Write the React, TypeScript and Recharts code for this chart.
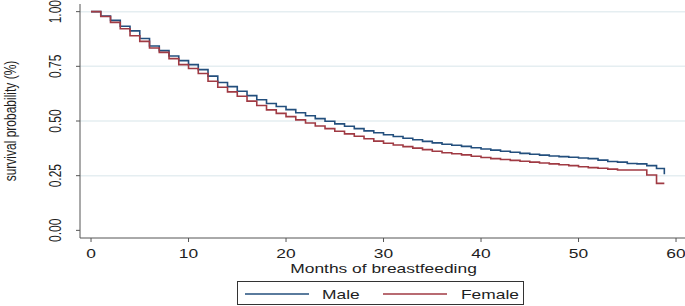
import React from 'react';
import { LineChart, Line, XAxis, YAxis, ReferenceLine, Legend } from 'recharts';

const months = [
  0, 1, 2, 3, 4, 5, 6, 7, 8, 9, 10, 11, 12, 13, 14, 15, 16, 17, 18, 19,
  20, 21, 22, 23, 24, 25, 26, 27, 28, 29, 30, 31, 32, 33, 34, 35, 36, 37, 38, 39,
  40, 41, 42, 43, 44, 45, 46, 47, 48, 49, 50, 51, 52, 53, 54, 55, 56, 57, 58, 58.8,
];

const maleSurvival = [
  1.0, 0.98, 0.96, 0.933, 0.912, 0.877, 0.843, 0.822, 0.797, 0.776,
  0.758, 0.735, 0.705, 0.676, 0.657, 0.636, 0.616, 0.597, 0.58, 0.566,
  0.552, 0.538, 0.524, 0.511, 0.499, 0.487, 0.476, 0.465, 0.455, 0.446,
  0.437, 0.429, 0.421, 0.414, 0.407, 0.4, 0.394, 0.389, 0.384, 0.378,
  0.372, 0.367, 0.362, 0.357, 0.352, 0.348, 0.344, 0.34, 0.337, 0.334,
  0.331, 0.328, 0.321, 0.315, 0.312, 0.306, 0.304, 0.296, 0.283, 0.256,
];

const femaleSurvival = [
  1.0, 0.978, 0.951, 0.922, 0.89, 0.864, 0.834, 0.814, 0.785, 0.758,
  0.74, 0.717, 0.682, 0.654, 0.633, 0.613, 0.591, 0.571, 0.551, 0.535,
  0.52, 0.505, 0.491, 0.477, 0.465, 0.453, 0.441, 0.43, 0.419, 0.408,
  0.398, 0.39, 0.383, 0.376, 0.369, 0.362, 0.355, 0.35, 0.345, 0.339,
  0.333, 0.328, 0.324, 0.32, 0.316, 0.312, 0.308, 0.304, 0.3, 0.296,
  0.291, 0.287, 0.284, 0.28, 0.276, 0.276, 0.276, 0.253, 0.215, 0.215,
];

const xTicks = [0, 10, 20, 30, 40, 50, 60];
const yTicks = [0, 0.25, 0.5, 0.75, 1];
const gridValues = [0.25, 0.5, 0.75, 1];
const seriesNames = ['Male', 'Female'];
const seriesColors = ['#234f7d', '#a03a43'];
const xTitle = 'Months of breastfeeding';
const yTitle = 'survival probability (%)';

const data = months.map((m, i) => ({
  month: m,
  male: maleSurvival[i],
  female: femaleSurvival[i],
}));

const FONT = '"Liberation Sans", Arial, Helvetica, sans-serif';
const SX = 1.45;
const FS = 12;
const TXT = '#1e1e1e';

const XTick = (props: any) => {
  const { x, y, payload } = props;
  return (
    <text
      transform={`translate(${x}, ${y + 14}) scale(${SX},1)`}
      textAnchor="middle"
      fontFamily={FONT}
      fontSize={FS}
      fill={TXT}
    >
      {payload.value}
    </text>
  );
};

const YTick = (props: any) => {
  const { x, y, payload } = props;
  return (
    <text
      transform={`translate(${x - 13}, ${y}) scale(${SX},1) rotate(-90)`}
      textAnchor="middle"
      fontFamily={FONT}
      fontSize={FS}
      fill={TXT}
    >
      {Number(payload.value).toFixed(2)}
    </text>
  );
};

const XTitle = (props: any) => {
  const vb = props.viewBox || {};
  const cx = vb.x + vb.width / 2 + 1;
  return (
    <text
      transform={`translate(${cx}, ${vb.y + 35}) scale(${SX},1)`}
      textAnchor="middle"
      fontFamily={FONT}
      fontSize={FS}
      fill={TXT}
    >
      {xTitle}
    </text>
  );
};

const YTitle = (props: any) => {
  const vb = props.viewBox || {};
  const cy = vb.y + vb.height / 2;
  return (
    <text
      transform={`translate(16, ${cy}) scale(${SX},1) rotate(-90)`}
      textAnchor="middle"
      fontFamily={FONT}
      fontSize={FS}
      fill={TXT}
    >
      {yTitle}
    </text>
  );
};

const LegendBox = () => (
  <div
    style={{
      width: 287,
      height: 24,
      boxSizing: 'border-box',
      border: '1px solid #333',
      background: '#fff',
    }}
  >
    <svg width={285} height={22} style={{ display: 'block' }}>
      <line x1={7} x2={71} y1={12} y2={12} stroke={seriesColors[0]} strokeWidth={1.6} />
      <text
        transform={`translate(84, 17) scale(${SX},1)`}
        fontFamily={FONT}
        fontSize={FS}
        fill={TXT}
      >
        {seriesNames[0]}
      </text>
      <line x1={145} x2={209} y1={12} y2={12} stroke={seriesColors[1]} strokeWidth={1.6} />
      <text
        transform={`translate(223, 17) scale(${SX},1)`}
        fontFamily={FONT}
        fontSize={FS}
        fill={TXT}
      >
        {seriesNames[1]}
      </text>
    </svg>
  </div>
);

export default function App() {
  return (
    <div style={{ position: 'absolute', left: 0, top: 0, width: 685, height: 306, background: '#fff' }}>
      <LineChart
        width={685}
        height={306}
        data={data}
        margin={{ top: 4, right: 0, left: 0, bottom: 14 }}
      >
        {gridValues.map((v) => (
          <ReferenceLine key={v} y={v} stroke="#e5eef1" strokeWidth={1.5} />
        ))}
        <XAxis
          dataKey="month"
          type="number"
          domain={[-1.13, 60.92]}
          ticks={xTicks}
          allowDataOverflow
          height={30}
          tickSize={4}
          stroke="#555"
          axisLine={{ stroke: '#555', strokeWidth: 1 }}
          tickLine={{ stroke: '#555', strokeWidth: 1 }}
          tick={<XTick />}
          label={{ value: xTitle, content: <XTitle /> }}
        />
        <YAxis
          type="number"
          domain={[-0.035, 1.035]}
          ticks={yTicks}
          allowDataOverflow
          width={80}
          tickSize={4}
          stroke="#555"
          axisLine={{ stroke: '#555', strokeWidth: 1 }}
          tickLine={{ stroke: '#555', strokeWidth: 1 }}
          tick={<YTick />}
          label={{ value: yTitle, content: <YTitle /> }}
        />
        <Legend
          content={<LegendBox />}
          wrapperStyle={{ position: 'absolute', left: 237, top: 281, width: 287, height: 24 }}
        />
        <Line
          type="stepAfter"
          dataKey="male"
          name={seriesNames[0]}
          stroke={seriesColors[0]}
          strokeWidth={1.6}
          dot={false}
          isAnimationActive={false}
        />
        <Line
          type="stepAfter"
          dataKey="female"
          name={seriesNames[1]}
          stroke={seriesColors[1]}
          strokeWidth={1.6}
          dot={false}
          isAnimationActive={false}
        />
      </LineChart>
    </div>
  );
}
